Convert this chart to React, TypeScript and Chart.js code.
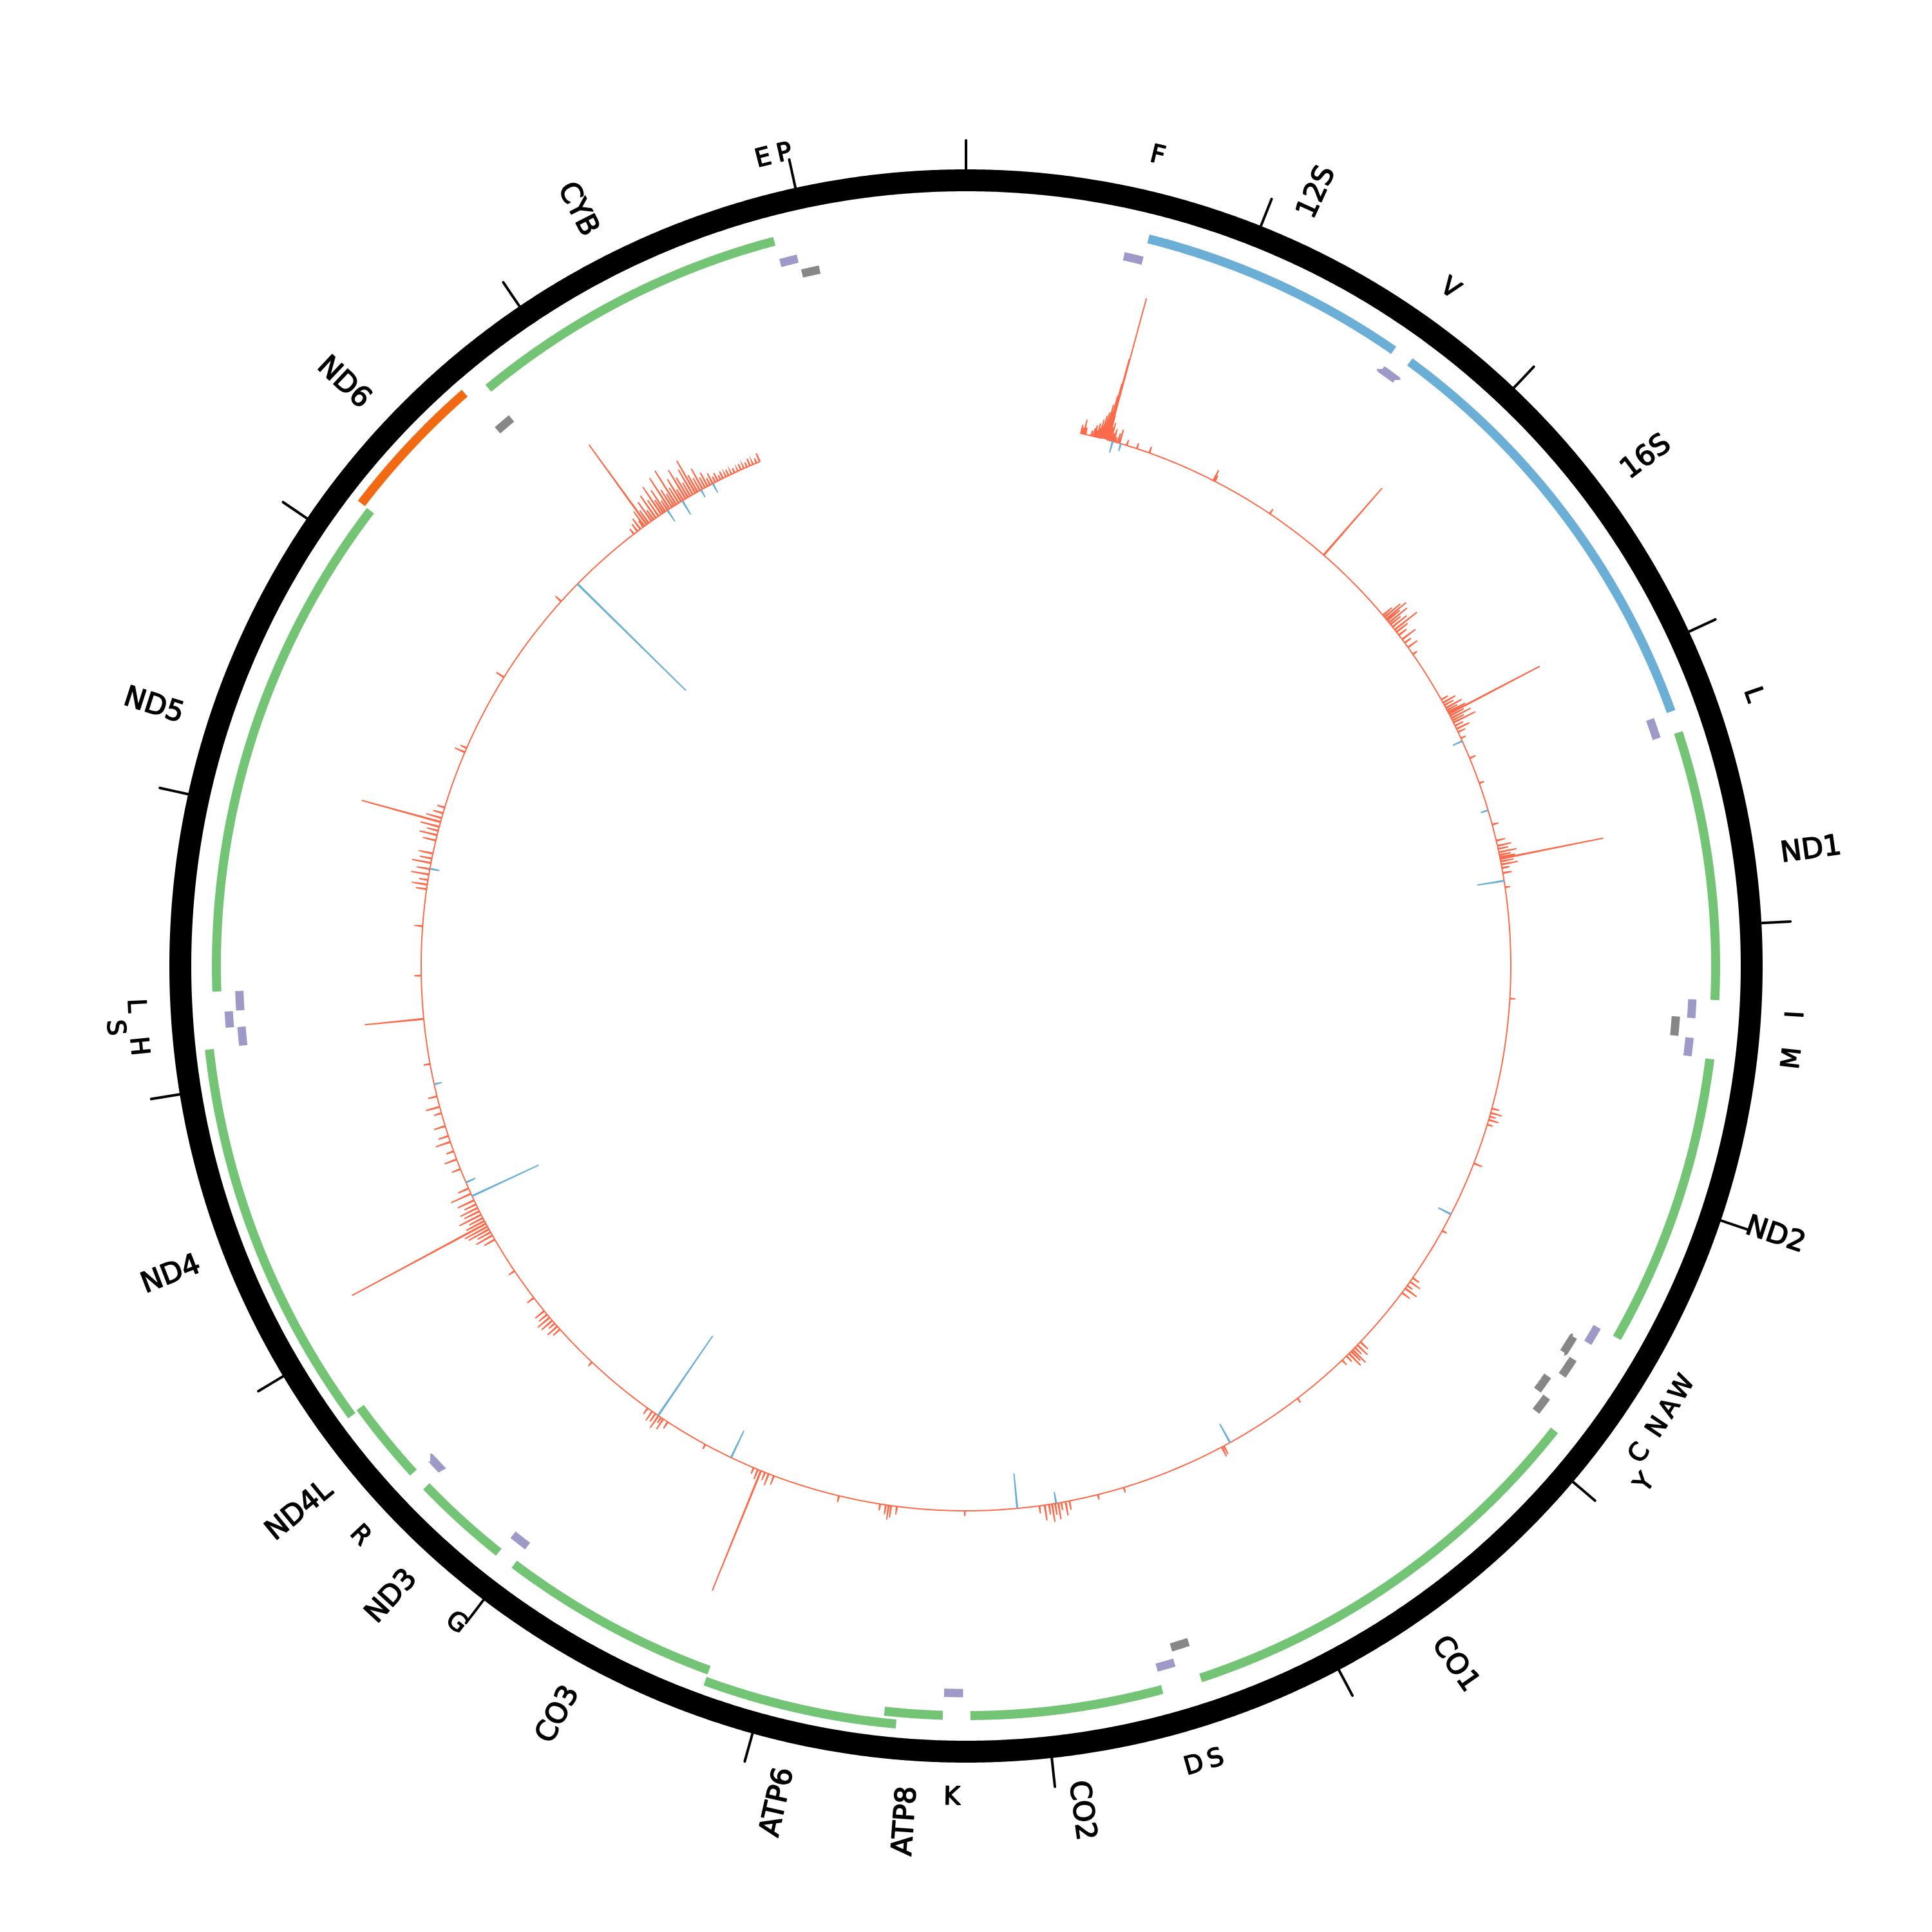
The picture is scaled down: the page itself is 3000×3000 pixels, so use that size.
import React, { useEffect, useRef } from "react";
import { Chart, registerables } from "chart.js";

Chart.register(...registerables);

// ---------------- DATA ----------------
const GENOME_LENGTH = 16569;

// protein-coding + rRNA genes
const geneNames = ["12S", "16S", "ND1", "ND2", "CO1", "CO2", "ATP8", "ATP6", "CO3", "ND3", "ND4L", "ND4", "ND5", "ND6", "CYB"];
const geneStarts = [648, 1671, 3307, 4470, 5904, 7586, 8366, 8527, 9207, 10059, 10470, 10760, 12337, 14149, 14747];
const geneEnds = [1601, 3229, 4262, 5511, 7445, 8269, 8572, 9207, 9990, 10404, 10766, 12137, 14148, 14673, 15887];
const geneKinds = ["rRNA", "rRNA", "CDS", "CDS", "CDS", "CDS", "CDS", "CDS", "CDS", "CDS", "CDS", "CDS", "CDS", "CDS", "CDS"];
const geneStrands = [1, 1, 1, 1, 1, 1, 1, 1, 1, 1, 1, 1, 1, -1, 1];

// tRNAs
const trnaNames = ["F", "V", "L", "I", "Q", "M", "W", "A", "N", "C", "Y", "S", "D", "K", "G", "R", "H", "S", "L", "E", "T", "P"];
const trnaStarts = [577, 1602, 3230, 4263, 4329, 4402, 5512, 5587, 5657, 5761, 5826, 7446, 7518, 8295, 9991, 10405, 12138, 12207, 12266, 14674, 15888, 15956];
const trnaEnds = [647, 1670, 3304, 4331, 4400, 4469, 5579, 5655, 5729, 5826, 5891, 7514, 7585, 8364, 10058, 10469, 12206, 12265, 12336, 14742, 15953, 16023];
const trnaStrands = [1, 1, 1, 1, -1, 1, 1, -1, -1, -1, -1, -1, 1, 1, 1, 1, 1, 1, 1, -1, 1, -1];
const trnaLabels = ["F", "V", "L", "I", "", "M", "W", "A", "N", "C", "Y", "S", "D", "K", "G", "R", "H", "S", "L", "", "E", "P"];

// outer ruler ticks (bp)
const tickPositions = [0, 1000, 2000, 3000, 4000, 5000, 6000, 7000, 8000, 9000, 10000, 11000, 12000, 13000, 14000, 15000, 16000];

// signal track
const trackStart = 556;
const trackEnd = 15550;
const forwardPositions = [
  561, 568, 575, 583, 612, 622, 629, 636, 641, 647, 652, 657, 662, 666, 670, 674, 678, 682, 686, 690, 693, 696, 698, 703, 709, 717, 724, 733, 744, 753, 790, 841, 905,
  1243, 1251, 1560, 1889,
  2298, 2310, 2322, 2331, 2344, 2356, 2371, 2388, 2402, 2421, 2447, 2468, 2495, 2536,
  2795, 2812, 2826, 2841, 2853, 2864, 2873, 2884, 2897, 2909, 2921, 2938, 2955, 2972, 3005, 3110, 3240,
  3450, 3530, 3556, 3571, 3588, 3601, 3612, 3620, 3633, 3648, 3665, 3690, 3760,
  4300, 4840, 4862, 4880, 4897, 4921, 5120, 5480,
  5750, 5772, 5795, 5812, 5838, 6150, 6171, 6188, 6203, 6214, 6229, 6246, 6275, 6560, 6985, 6996,
  7510, 7640, 7781, 7800, 7821, 7836, 7851, 7866, 7881, 7902, 7928, 8290,
  8620, 8648, 8660, 8674, 8702, 8905,
  9235, 9262, 9281, 9302, 9318, 9340, 9600, 9812, 9838, 9851, 9866, 9884, 9903, 9930,
  10280, 10502, 10521, 10540, 10558, 10578, 10597, 10619, 10700, 10860,
  11040, 11063, 11081, 11097, 11112, 11128, 11143, 11159, 11177, 11196, 11214, 11233, 11255, 11290, 11318,
  11420, 11470, 11512, 11560, 11590, 11640, 11705, 11737, 11790, 11950,
  12170, 12380, 12620, 12800, 12822, 12845, 12872, 12898, 12928, 12950, 12975,
  13040, 13066, 13088, 13108, 13132, 13152, 13176, 13205, 13490, 13512, 13900, 14360,
  14840, 14862, 14880, 14897, 14904, 14918, 14930, 14946, 14958, 14972, 14988, 15004, 15016, 15027, 15040, 15052, 15066, 15078, 15090, 15104, 15118, 15130, 15144, 15157, 15170, 15184, 15198, 15210, 15224, 15238, 15252, 15266, 15280, 15294, 15308, 15322, 15336, 15350, 15366, 15380, 15396, 15412, 15430, 15446, 15462, 15478, 15494, 15510, 15528, 15545,
];
const forwardValues = [
  14, 9, 22, 11, 8, 12, 18, 10, 22, 15, 28, 20, 35, 25, 42, 30, 55, 45, 70, 90, 130, 228, 40, 20, 28, 12, 20, 8, 14, 22, 8, 8, 10,
  18, 10, 8, 138,
  18, 32, 40, 25, 36, 20, 28, 44, 22, 15, 26, 12, 18, 8,
  12, 22, 16, 28, 18, 30, 159, 24, 34, 20, 38, 14, 22, 12, 8, 10, 8,
  10, 14, 22, 16, 28, 18, 24, 163, 20, 26, 12, 14, 8,
  8, 12, 18, 10, 16, 9, 14, 8,
  12, 18, 10, 22, 14, 16, 22, 14, 28, 20, 26, 12, 10, 8, 14, 16,
  8, 8, 14, 22, 12, 26, 18, 28, 16, 24, 12, 8,
  12, 18, 22, 14, 10, 10,
  14, 18, 12, 200, 16, 10, 8, 12, 18, 10, 22, 14, 16, 10,
  8, 14, 20, 12, 22, 24, 16, 18, 12, 10,
  18, 28, 22, 36, 40, 236, 32, 24, 38, 26, 30, 20, 28, 34, 18,
  14, 20, 12, 24, 16, 18, 12, 22, 14, 10,
  92, 10, 12, 16, 24, 14, 28, 20, 30, 18, 22,
  20, 28, 18, 30, 126, 24, 16, 12, 16, 10, 14, 12,
  10, 14, 20, 12, 28, 153, 24, 36, 18, 42, 30, 50, 24, 40, 18, 56, 32, 22, 62, 28, 40, 20, 52, 36, 24, 44, 58, 30, 22, 36, 18, 24, 12, 18, 10, 14, 8, 12, 6, 10, 6, 8, 5, 10, 6, 8, 12, 6, 8, 14,
];
const reversePositions = [719, 760, 3020, 3378, 3728, 5390, 6950, 7846, 8036, 9460, 9868, 11277, 11350, 11850, 12900, 14476, 15040, 15125, 15230, 15295];
const reverseValues = [18, 12, 15, 12, 42, 22, 33, 18, 54, 46, 150, 113, 15, 12, 15, 236, 20, 25, 12, 15];

// ---------------- LAYOUT / STYLE ----------------
const RING_R = 1220;
const RING_W = 34;
const TICK_R0 = 1236;
const TICK_R1 = 1282;
const GENE_R = 1164;
const TRNA_PLUS_R = 1129;
const TRNA_MINUS_R = 1105;
const LEVEL_STEP = 18;
const GENE_W = 14;
const TRNA_W = 13;
const BASE_R = 846;
const GENE_LABEL_R = 1277;
const TRNA_LABEL_R = 1292;
const LABEL_BUMP = 34;
const FONT = '"DejaVu Sans", "Liberation Sans", sans-serif';

const COLORS = {
  cdsPlus: "#74c476",
  cdsMinus: "#f16913",
  rrna: "#6baed6",
  trnaPlus: "#9e9ac8",
  trnaMinus: "#878787",
  fwd: "#fb6a4a",
  rev: "#6baed6",
};

function toXY(pos: number, r: number) {
  const a = (pos / GENOME_LENGTH) * 2 * Math.PI;
  return { x: r * Math.sin(a), y: r * Math.cos(a) };
}

function arcPoints(start: number, end: number, r: number, step = 8) {
  const pts: { x: number; y: number }[] = [];
  const n = Math.max(2, Math.ceil((end - start) / step) + 1);
  for (let i = 0; i < n; i++) {
    const p = start + ((end - start) * i) / (n - 1);
    pts.push(toXY(p, r));
  }
  return pts;
}

function assignLevels(idx: number[], starts: number[], ends: number[], margin: number) {
  const order = [...idx].sort((a, b) => starts[a] - starts[b]);
  const levelEnds: number[] = [];
  const levels: Record<number, number> = {};
  for (const i of order) {
    let lv = 0;
    while (lv < levelEnds.length && starts[i] <= levelEnds[lv] + margin) lv++;
    levels[i] = lv;
    levelEnds[lv] = ends[i];
  }
  return levels;
}

function baseLine(ds: any) {
  return {
    showLine: true,
    pointRadius: 0,
    pointHoverRadius: 0,
    fill: false,
    // tiny tension keeps Chart.js off its x-bucketing fast path (bad for circles)
    tension: 0.0001,
    spanGaps: false,
    borderCapStyle: "butt",
    borderJoinStyle: "round",
    ...ds,
  };
}

function buildDatasets() {
  const datasets: any[] = [];

  // outer ring
  datasets.push(baseLine({ data: arcPoints(0, GENOME_LENGTH, RING_R, 20), borderColor: "#000", borderWidth: RING_W }));

  // ticks
  const tickData: any[] = [];
  tickPositions.forEach((p) => {
    tickData.push(toXY(p, TICK_R0 - 4), toXY(p, TICK_R1), { x: 0, y: null });
  });
  datasets.push(baseLine({ data: tickData, borderColor: "#000", borderWidth: 4, borderCapStyle: "round" }));

  // genes
  const gIdx = geneNames.map((_, i) => i);
  const gLevels = assignLevels(gIdx, geneStarts, geneEnds, 5);
  gIdx.forEach((i) => {
    const color = geneKinds[i] === "rRNA" ? COLORS.rrna : geneStrands[i] > 0 ? COLORS.cdsPlus : COLORS.cdsMinus;
    datasets.push(
      baseLine({
        data: arcPoints(geneStarts[i], geneEnds[i], GENE_R + gLevels[i] * LEVEL_STEP),
        borderColor: color,
        borderWidth: GENE_W,
      })
    );
  });

  // tRNAs
  const plusIdx = trnaNames.map((_, i) => i).filter((i) => trnaStrands[i] > 0);
  const minusIdx = trnaNames.map((_, i) => i).filter((i) => trnaStrands[i] < 0);
  const pL = assignLevels(plusIdx, trnaStarts, trnaEnds, 5);
  const mL = assignLevels(minusIdx, trnaStarts, trnaEnds, 5);
  trnaNames.forEach((_, i) => {
    const plus = trnaStrands[i] > 0;
    const r = plus ? TRNA_PLUS_R + pL[i] * LEVEL_STEP : TRNA_MINUS_R + mL[i] * LEVEL_STEP;
    datasets.push(
      baseLine({
        data: arcPoints(trnaStarts[i], trnaEnds[i], r, 4),
        borderColor: plus ? COLORS.trnaPlus : COLORS.trnaMinus,
        borderWidth: TRNA_W,
      })
    );
  });

  // reverse signal (inward)
  const revData: any[] = [];
  reversePositions.forEach((p, i) => {
    revData.push(toXY(p - 2, BASE_R), toXY(p, BASE_R - reverseValues[i]), toXY(p + 2, BASE_R), { x: 0, y: null });
  });
  datasets.push(baseLine({ data: revData, borderColor: COLORS.rev, borderWidth: 2, borderJoinStyle: "miter" }));

  // forward signal (outward) as continuous line on baseline
  const pts: { p: number; v: number }[] = [];
  for (let p = trackStart; p <= trackEnd; p += 20) {
    const near = forwardPositions.some((q) => Math.abs(q - p) <= 3);
    if (!near) pts.push({ p, v: 0 });
  }
  forwardPositions.forEach((q, i) => {
    pts.push({ p: q - 2, v: 0 }, { p: q, v: forwardValues[i] }, { p: q + 2, v: 0 });
  });
  pts.sort((a, b) => a.p - b.p);
  datasets.push(
    baseLine({
      data: pts.map((o) => toXY(o.p, BASE_R + o.v)),
      borderColor: COLORS.fwd,
      borderWidth: 2,
      borderJoinStyle: "miter",
    })
  );

  return datasets;
}

function drawLabel(ctx: CanvasRenderingContext2D, text: string) {
  ctx.fillText(text, 0, 0);
  ctx.strokeText(text, 0, 0);
}

const labelPlugin = {
  id: "circularLabels",
  afterDatasetsDraw(chart: any) {
    const ctx = chart.ctx as CanvasRenderingContext2D;
    const xs = chart.scales.x;
    const ys = chart.scales.y;
    const px = (pos: number, r: number) => {
      const { x, y } = toXY(pos, r);
      return [xs.getPixelForValue(x), ys.getPixelForValue(y)];
    };
    ctx.save();
    ctx.fillStyle = "#000";
    ctx.strokeStyle = "#000";
    ctx.lineWidth = 1.6;
    ctx.lineJoin = "round";
    ctx.textBaseline = "middle";

    // gene labels (radial)
    ctx.font = `44px ${FONT}`;
    geneNames.forEach((name, i) => {
      const mid = (geneStarts[i] + geneEnds[i]) / 2;
      const deg = (mid / GENOME_LENGTH) * 360;
      const [x, y] = px(mid, GENE_LABEL_R);
      ctx.save();
      ctx.translate(x, y);
      if (deg < 180) {
        ctx.rotate(((deg - 90) * Math.PI) / 180);
        ctx.textAlign = "left";
      } else {
        ctx.rotate(((deg - 270) * Math.PI) / 180);
        ctx.textAlign = "right";
      }
      drawLabel(ctx, name);
      ctx.restore();
    });

    // tRNA labels (tangential), bumped outward when crowded
    ctx.font = `39px ${FONT}`;
    const items = trnaLabels
      .map((lab, i) => ({ lab, mid: (trnaStarts[i] + trnaEnds[i]) / 2 }))
      .filter((o) => o.lab !== "")
      .sort((a, b) => a.mid - b.mid);
    let prevMid = -1e9;
    let prevLevel = 0;
    items.forEach((o) => {
      let level = 0;
      if (o.mid - prevMid < 68 && prevLevel === 0) level = 1;
      prevMid = o.mid;
      prevLevel = level;
      const deg = (o.mid / GENOME_LENGTH) * 360;
      const [x, y] = px(o.mid, TRNA_LABEL_R + level * LABEL_BUMP);
      let rot = deg;
      if (deg > 90 && deg <= 270) rot = deg - 180;
      ctx.save();
      ctx.translate(x, y);
      ctx.rotate((rot * Math.PI) / 180);
      ctx.textAlign = "center";
      drawLabel(ctx, o.lab);
      ctx.restore();
    });
    ctx.restore();
  },
};

export default function App() {
  const canvasRef = useRef<HTMLCanvasElement | null>(null);
  useEffect(() => {
    if (!canvasRef.current) return;
    const chart = new Chart(canvasRef.current, {
      type: "scatter",
      data: { datasets: buildDatasets() },
      options: {
        animation: false,
        responsive: false,
        maintainAspectRatio: false,
        events: [],
        layout: { padding: 0 },
        plugins: { legend: { display: false }, tooltip: { enabled: false } },
        scales: {
          x: { type: "linear", min: -1500, max: 1500, display: false },
          y: { type: "linear", min: -1500, max: 1500, display: false },
        },
      } as any,
      plugins: [labelPlugin],
    });
    return () => chart.destroy();
  }, []);
  return (
    <div style={{ position: "absolute", left: 0, top: 0, width: 3000, height: 3000, background: "#fff" }}>
      <canvas ref={canvasRef} width={3000} height={3000} style={{ display: "block", width: 3000, height: 3000 }} />
    </div>
  );
}
